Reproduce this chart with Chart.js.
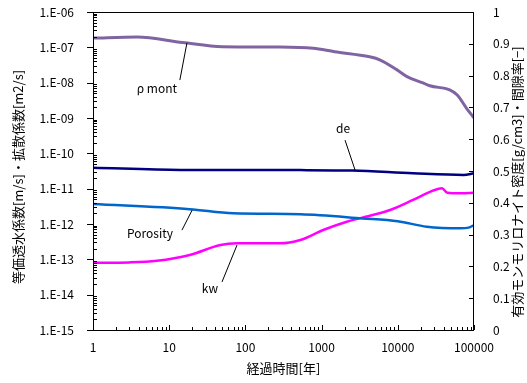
<!DOCTYPE html>
<html>
<head>
<meta charset="utf-8">
<script src="https://cdn.jsdelivr.net/npm/chart.js@4/dist/chart.umd.min.js"></script>
<style>
  html, body { margin: 0; padding: 0; background: #fff; }
  #wrap { width: 527px; height: 383px; }
</style>
</head>
<body>
<div id="wrap"><canvas id="chart" width="527" height="383"></canvas></div>
<script>
// time [years] and values
const rhoTime = [1, 3.8, 15, 50, 282, 776, 1480, 4270, 5890, 9770, 13200, 21400, 26300, 47900, 60300, 79400, 100000];
const rhoValues = [0.918, 0.921, 0.904, 0.891, 0.890, 0.886, 0.875, 0.859, 0.849, 0.818, 0.797, 0.777, 0.768, 0.755, 0.739, 0.698, 0.667];

const porTime = [1, 18.6, 69, 525, 3470, 10000, 24000, 66000, 85000, 100000];
const porValues = [0.396, 0.380, 0.367, 0.364, 0.351, 0.342, 0.325, 0.320, 0.322, 0.330];

const deTime = [1, 14, 525, 2570, 15850, 73000, 100000];
const deValues = [3.93e-11, 3.4e-11, 3.35e-11, 3.25e-11, 2.72e-11, 2.45e-11, 2.72e-11];

const kwTime = [1, 3, 6.9, 18.6, 47, 78, 282, 525, 1050, 2140, 4680, 7940, 15850, 28800, 38000, 44700, 66000, 100000];
const kwValues = [8.0e-14, 8.2e-14, 9.1e-14, 1.33e-13, 2.55e-13, 2.84e-13, 2.84e-13, 3.52e-13, 6.76e-13, 1.16e-12, 1.80e-12, 2.49e-12, 4.79e-12, 8.77e-12, 1.03e-11, 7.69e-12, 7.4e-12, 7.69e-12];

const xTickLabels = [1, 10, 100, 1000, 10000, 100000];
const leftExponents = [-15, -14, -13, -12, -11, -10, -9, -8, -7, -6];

const leftTitle = '等価透水係数[m/s]・拡散係数[m2/s]';
const rightTitle = '有効モンモリロナイト密度[g/cm3]・間隙率[−]';

// callouts: label text, label position, leader line (x in years, y on right axis)
const callouts = [
  { text: 'ρ mont', at: [6.9, 0.761], line: [[13.8, 0.786], [17.1, 0.903]] },
  { text: 'de', at: [1910, 0.635], line: [[2030, 0.597], [2750, 0.503]] },
  { text: 'Porosity', at: [5.6, 0.305], line: [[14.7, 0.314], [20, 0.377]] },
  { text: 'kw', at: [34.3, 0.132], line: [[49.3, 0.151], [77.6, 0.267]] }
];

const FONT = "'Noto Sans CJK JP', 'Liberation Sans', sans-serif";

function toPoints(xs, ys) {
  return xs.map((x, i) => ({ x: x, y: ys[i] }));
}

function isPow10(v) {
  const e = Math.round(Math.log10(v));
  return Math.abs(v - Math.pow(10, e)) / Math.pow(10, e) < 1e-6;
}

function drawVertical(ctx, text, x, y) {
  ctx.save();
  ctx.translate(x, y);
  ctx.rotate(-Math.PI / 2);
  ctx.fillText(text, 0, 0);
  ctx.restore();
}

const framePlugin = {
  id: 'frame',
  afterDraw(chart) {
    const ctx = chart.ctx;
    const a = chart.chartArea;
    const xs = chart.scales.x, yl = chart.scales.yL, yr = chart.scales.yR;
    ctx.save();
    ctx.strokeStyle = '#000';
    ctx.lineWidth = 1;
    ctx.strokeRect(a.left + 0.5, a.top + 0.5, a.right - a.left - 1, a.bottom - a.top);
    ctx.beginPath();
    // left axis ticks
    for (let e = -15; e <= -6; e++) {
      const y = Math.round(yl.getPixelForValue(Math.pow(10, e))) + 0.5;
      ctx.moveTo(a.left - 6, y); ctx.lineTo(a.left, y);
      if (e < -6) {
        for (let k = 2; k <= 9; k++) {
          const ym = Math.round(yl.getPixelForValue(k * Math.pow(10, e))) + 0.5;
          ctx.moveTo(a.left, ym); ctx.lineTo(a.left + 4, ym);
        }
      }
    }
    // bottom axis ticks
    for (let e = 0; e <= 5; e++) {
      const x = Math.round(xs.getPixelForValue(Math.pow(10, e))) + 0.5;
      ctx.moveTo(x, a.bottom); ctx.lineTo(x, a.bottom - 5);
      if (e < 5) {
        for (let k = 2; k <= 9; k++) {
          const xm = Math.round(xs.getPixelForValue(k * Math.pow(10, e))) + 0.5;
          ctx.moveTo(xm, a.bottom); ctx.lineTo(xm, a.bottom - 3);
        }
      }
    }
    // right axis ticks
    for (let i = 1; i < 10; i++) {
      const y = Math.round(yr.getPixelForValue(i / 10)) + 0.5;
      ctx.moveTo(a.right, y); ctx.lineTo(a.right - 5, y);
    }
    ctx.stroke();

    // callouts
    ctx.font = '12px ' + FONT;
    ctx.fillStyle = '#000';
    ctx.textAlign = 'center';
    ctx.textBaseline = 'middle';
    callouts.forEach(c => {
      ctx.fillText(c.text, xs.getPixelForValue(c.at[0]), yr.getPixelForValue(c.at[1]));
      ctx.beginPath();
      ctx.moveTo(xs.getPixelForValue(c.line[0][0]), yr.getPixelForValue(c.line[0][1]));
      ctx.lineTo(xs.getPixelForValue(c.line[1][0]), yr.getPixelForValue(c.line[1][1]));
      ctx.stroke();
    });

    // axis titles, both reading bottom to top
    ctx.font = '13px ' + FONT;
    drawVertical(ctx, leftTitle, 18, 177);
    drawVertical(ctx, rightTitle, 517, 182);
    ctx.restore();
  }
};

function fixY(width) {
  return s => { s.width = width; s.paddingTop = 0; s.paddingBottom = 0; };
}

new Chart(document.getElementById('chart'), {
  type: 'line',
  data: {
    datasets: [
      { label: 'ρ mont', data: toPoints(rhoTime, rhoValues), yAxisID: 'yR', borderColor: '#8064A2', borderWidth: 3 },
      { label: 'de', data: toPoints(deTime, deValues), yAxisID: 'yL', borderColor: '#000080', borderWidth: 2.5 },
      { label: 'Porosity', data: toPoints(porTime, porValues), yAxisID: 'yR', borderColor: '#0066CC', borderWidth: 2.5 },
      { label: 'kw', data: toPoints(kwTime, kwValues), yAxisID: 'yL', borderColor: '#FF00FF', borderWidth: 2.5 }
    ]
  },
  options: {
    responsive: false,
    animation: false,
    layout: { padding: { top: 12, right: 0, left: 0, bottom: 0 } },
    elements: {
      point: { radius: 0 },
      line: { cubicInterpolationMode: 'monotone', fill: false }
    },
    plugins: { legend: { display: false }, tooltip: { enabled: false } },
    scales: {
      x: {
        type: 'logarithmic',
        min: 1, max: 100000,
        grid: { display: false },
        border: { display: false },
        afterFit(s) { s.height = 53; s.paddingLeft = 0; s.paddingRight = 0; },
        ticks: {
          autoSkip: false, maxRotation: 0, padding: 2,
          color: '#000', font: { family: FONT, size: 12 },
          callback: v => (isPow10(v) && xTickLabels.includes(Math.round(v))) ? String(Math.round(v)) : ''
        },
        title: { display: true, text: '経過時間[年]', color: '#000', font: { family: FONT, size: 13 }, padding: { top: 0, bottom: 7 } }
      },
      yL: {
        type: 'logarithmic',
        position: 'left',
        min: 1e-15, max: 1e-6,
        grid: { display: false },
        border: { display: false },
        afterFit: fixY(93),
        ticks: {
          autoSkip: false, padding: 11,
          color: '#000', font: { family: FONT, size: 12 },
          callback: v => {
            if (!isPow10(v)) return '';
            const e = Math.round(Math.log10(v));
            if (!leftExponents.includes(e)) return '';
            return '1.E-' + String(-e).padStart(2, '0');
          }
        }
      },
      yR: {
        type: 'linear',
        position: 'right',
        min: 0, max: 1,
        grid: { display: false },
        border: { display: false },
        afterFit: fixY(53),
        ticks: {
          stepSize: 0.1, padding: 11,
          color: '#000', font: { family: FONT, size: 12 },
          callback: v => String(Math.round(v * 10) / 10)
        }
      }
    }
  },
  plugins: [framePlugin]
});
</script>
</body>
</html>
